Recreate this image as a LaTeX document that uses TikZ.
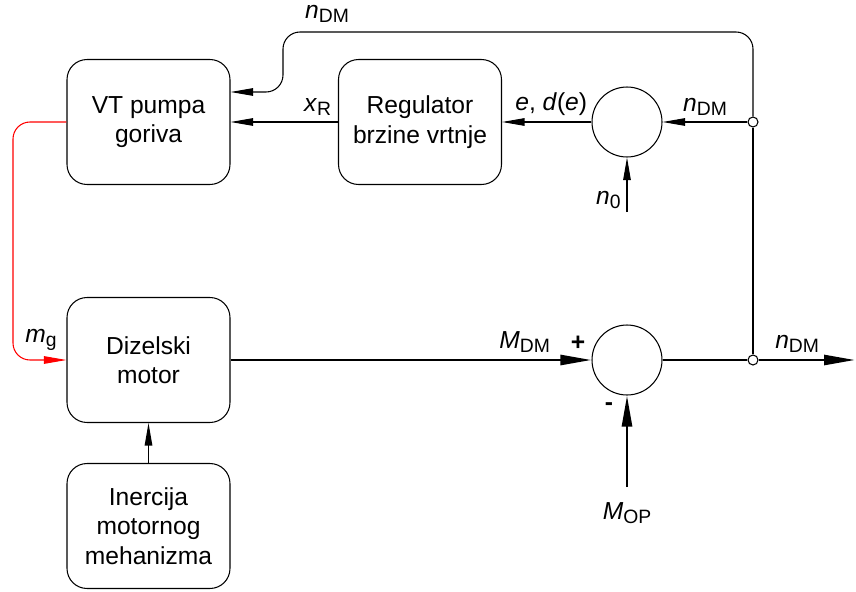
\documentclass[tikz,border=0pt]{standalone}
\usepackage{fontspec}
\setmainfont{Liberation Sans}
\usetikzlibrary{arrows.meta}
\newcommand{\sig}[2]{\textit{#1}\raisebox{-0.35ex}{\fontsize{11}{11}\selectfont #2}}

\begin{document}
\begin{tikzpicture}[x=0.02cm,y=-0.02cm,
	font=\fontsize{14}{16.8}\selectfont,
	block/.style={draw,line width=0.6pt,rounded corners=0.4cm,minimum width=3.26cm,minimum height=2.5cm,align=center},
	sumnode/.style={draw,line width=0.6pt,circle,minimum size=1.4cm,inner sep=0pt},
	junction/.style={draw,line width=0.6pt,circle,fill=white,minimum size=0.2cm,inner sep=0pt},
	sigline/.style={line width=0.6pt,-{Triangle[length=0.45cm,width=0.15cm]}},
	powerline/.style={line width=1.5pt,-{Triangle[length=0.62cm,width=0.2cm]}}]
	\useasboundingbox (0,0) rectangle (856,592);

	\node[block] (vt) at (148.5,122) {VT pumpa\\goriva};
	\node[block] (reg) at (420,122) {Regulator\\brzine vrtnje};
	\node[block] (dm) at (148.5,360) {Dizelski\\motor};
	\node[block] (inm) at (148.5,526) {Inercija\\motornog\\mehanizma};

	\node[sumnode] (sa) at (627,122) {};
	\node[sumnode] (sb) at (627,360) {};
	\node[junction] (ja) at (753,122) {};
	\node[junction] (jb) at (753,360) {};
	\coordinate (nzero) at (627,212);
	\coordinate (mop) at (627,487);
	\coordinate (out) at (855,360);

	\draw[sigline] (reg) -- (vt) node[pos=0.19,above] {\sig{x}{R}};
	\draw[sigline] (sa) -- (reg) node[pos=0.45,above] {\textit{e}, \textit{d}(\textit{e})};
	\draw[sigline] (ja) -- (sa) node[midway,above] {\sig{n}{DM}};
	\draw[sigline] (nzero) -- (sa) node[pos=0.22,left] {\sig{n}{0}};
	\draw[sigline] (inm) -- (dm);
	\draw[sigline,rounded corners=0.34cm] (ja) |- (283,32) -- (283,92) -- (vt.east |- 0,92);
	\node (ndmtop) at (327,14) {\sig{n}{DM}};
	\draw[sigline,red,rounded corners=0.34cm] (vt.west) -- (13,122) |- (dm.west);
	\node (mg) at (41,340) {\sig{m}{g}};
	\draw[line width=0.6pt] (ja) -- (jb);

	\draw[powerline] (dm) -- (sb) node[pos=0.815,above] {\sig{M}{DM}};
	\draw[line width=1.5pt] (sb) -- (jb);
	\draw[powerline] (jb) -- (out) node[pos=0.4,above] {\sig{n}{DM}};
	\draw[powerline] (mop) -- (sb);
	\node[below,yshift=-0.18cm] (mopl) at (mop) {\sig{M}{OP}};
	\node (plus) at (578,343) {\textbf{+}};
	\node (minus) at (609,407) {\textbf{-}};
\end{tikzpicture}
\end{document}
